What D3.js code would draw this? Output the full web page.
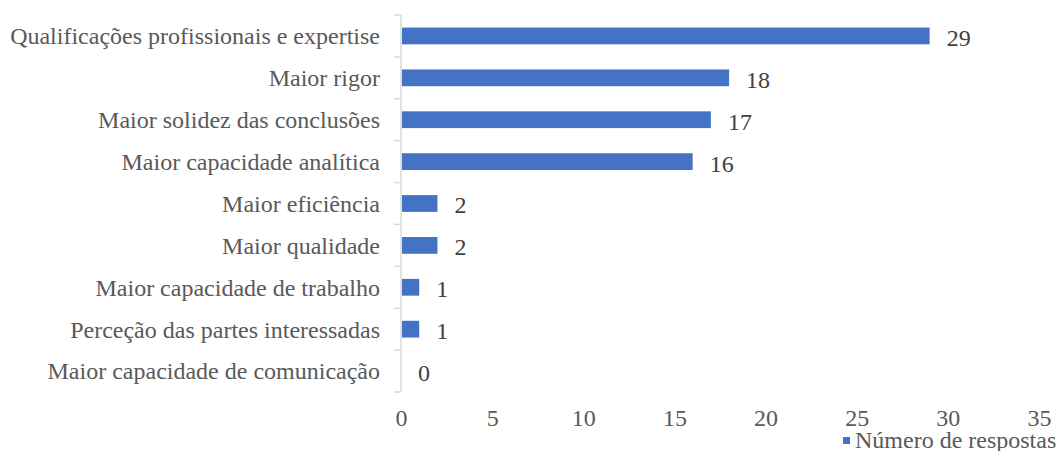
<!DOCTYPE html>
<html><head><meta charset="utf-8">
<script src="https://cdn.jsdelivr.net/npm/d3@7"></script>
<style>body{margin:0;background:#fff;} svg{display:block;}</style>
</head><body>
<svg id="c" width="1060" height="451"></svg>
<script>
const categories = ["Qualificações profissionais e expertise","Maior rigor","Maior solidez das conclusões","Maior capacidade analítica","Maior eficiência","Maior qualidade","Maior capacidade de trabalho","Perceção das partes interessadas","Maior capacidade de comunicação"];
const values = [29,18,17,16,2,2,1,1,0];
const xTicks = [0,5,10,15,20,25,30,35];
const seriesName = "Número de respostas";

const svg = d3.select("#c");
const font = "'Liberation Serif','Times New Roman',serif";
const fs = 24;
const x = d3.scaleLinear().domain([0,35]).range([401,1039]);
const y = d3.scaleBand().domain(categories).range([15,392]).paddingInner(0.6).paddingOuter(0.3);
const color = "#4472C4";

// bars
svg.selectAll("rect.bar").data(values).enter().append("rect")
  .attr("x", x(0)+1).attr("y",(d,i)=>y(categories[i]))
  .attr("width", d=>Math.max(0,x(d)-x(0)-1)).attr("height", y.bandwidth())
  .attr("fill", color);

// y axis line and ticks
svg.append("line").attr("x1",x(0)).attr("x2",x(0)).attr("y1",15).attr("y2",392)
  .attr("stroke","#d9d9d9").attr("stroke-width",1.5);
const bounds = categories.map((c,i)=>15+i*y.step()).concat([392]);
svg.selectAll("line.tk").data(bounds).enter().append("line")
  .attr("x1",x(0)-7).attr("x2",x(0)).attr("y1",d=>d).attr("y2",d=>d)
  .attr("stroke","#d9d9d9").attr("stroke-width",1.5);

// category labels
svg.selectAll("text.cat").data(categories).enter().append("text")
  .attr("x",380).attr("y",d=>y(d)+y.bandwidth()/2).attr("dy","0.35em")
  .attr("text-anchor","end").attr("font-family",font).attr("font-size",fs)
  .attr("fill","#595959").text(d=>d);

// value labels
svg.selectAll("text.val").data(values).enter().append("text")
  .attr("x",d=>x(d)+17).attr("y",(d,i)=>y(categories[i])+y.bandwidth()/2+1.5).attr("dy","0.35em")
  .attr("font-family",font).attr("font-size",fs).attr("fill","#404040").text(d=>d);

// x tick labels
const xa = d3.axisBottom(x).tickValues(xTicks).tickSize(0).tickPadding(0);
const g = svg.append("g").attr("transform","translate(0,409)").call(xa);
g.select(".domain").remove();
g.selectAll("text").attr("font-family",font).attr("font-size",fs).attr("fill","#595959");

// legend
svg.append("rect").attr("x",843).attr("y",437).attr("width",7).attr("height",7).attr("fill",color);
svg.append("text").attr("x",855).attr("y",448).attr("font-family",font).attr("font-size",fs)
  .attr("fill","#595959").text(seriesName);
</script>
</body></html>
